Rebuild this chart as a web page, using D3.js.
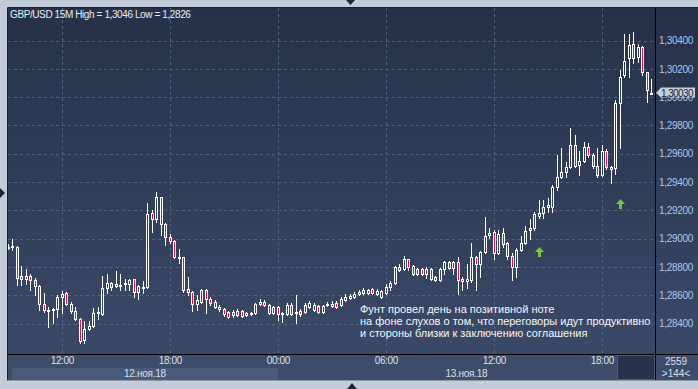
<!DOCTYPE html>
<html>
<head>
<meta charset="utf-8">
<script src="https://cdnjs.cloudflare.com/ajax/libs/d3/7.8.5/d3.min.js"></script>
<style>
html, body { margin: 0; padding: 0; background: #c3ccd8; overflow: hidden; }
svg { display: block; font-family: "Liberation Sans", Arial, sans-serif; }
</style>
</head>
<body>
<div id="chart"></div>
<script>
// GBP/USD 15M, 12.11.2018 09:00 .. 13.11.2018 20:45 (144 bars)
var opens = [
    1.28936, 1.28940, 1.28940, 1.28735, 1.28713, 1.28735, 1.28706, 1.28664, 1.28537, 1.28494,
    1.28494, 1.28501, 1.28586, 1.28614, 1.28537, 1.28487, 1.28431, 1.28282, 1.28360, 1.28381,
    1.28473, 1.28466, 1.28650, 1.28685, 1.28664, 1.28671, 1.28681, 1.28678, 1.28713, 1.28622,
    1.28657, 1.28657, 1.29180, 1.29138, 1.29293, 1.29102, 1.29010, 1.28982, 1.28869, 1.28869,
    1.28643, 1.28622, 1.28537, 1.28551, 1.28636, 1.28572, 1.28516, 1.28516, 1.28501, 1.28480,
    1.28459, 1.28459, 1.28487, 1.28459, 1.28466, 1.28473, 1.28537, 1.28551, 1.28530, 1.28473,
    1.28516, 1.28466, 1.28466, 1.28530, 1.28473, 1.28487, 1.28480, 1.28516, 1.28494, 1.28523,
    1.28480, 1.28533, 1.28523, 1.28544, 1.28530, 1.28565, 1.28579, 1.28586, 1.28610, 1.28614,
    1.28614, 1.28643, 1.28607, 1.28586, 1.28614, 1.28657, 1.28685, 1.28798, 1.28784, 1.28855,
    1.28805, 1.28749, 1.28784, 1.28749, 1.28784, 1.28728, 1.28706, 1.28784, 1.28834, 1.28791,
    1.28834, 1.28713, 1.28699, 1.28706, 1.28869, 1.28820, 1.28904, 1.29025, 1.29046, 1.28897,
    1.29039, 1.28968, 1.28876, 1.28798, 1.28918, 1.28968, 1.29060, 1.29074, 1.29159, 1.29180,
    1.29223, 1.29223, 1.29364, 1.29434, 1.29470, 1.29505, 1.29661, 1.29519, 1.29547, 1.29646,
    1.29590, 1.29512, 1.29448, 1.29618, 1.29505, 1.29498, 1.29958, 1.30156, 1.30276, 1.30375,
    1.30283, 1.30354, 1.30177, 1.30032
];
var highs = [
    1.28961, 1.28996, 1.28947, 1.28805, 1.28784, 1.28749, 1.28721, 1.28670, 1.28614, 1.28516,
    1.28508, 1.28600, 1.28629, 1.28620, 1.28551, 1.28516, 1.28438, 1.28417, 1.28417, 1.28508,
    1.28516, 1.28735, 1.28749, 1.28692, 1.28770, 1.28749, 1.28713, 1.28713, 1.28716, 1.28671,
    1.28699, 1.29251, 1.29201, 1.29328, 1.29297, 1.29109, 1.29032, 1.28989, 1.28926, 1.28872,
    1.28728, 1.28629, 1.28600, 1.28643, 1.28643, 1.28586, 1.28565, 1.28530, 1.28508, 1.28487,
    1.28494, 1.28501, 1.28494, 1.28480, 1.28480, 1.28544, 1.28572, 1.28565, 1.28537, 1.28523,
    1.28523, 1.28480, 1.28544, 1.28544, 1.28600, 1.28501, 1.28544, 1.28558, 1.28544, 1.28530,
    1.28530, 1.28551, 1.28558, 1.28558, 1.28586, 1.28607, 1.28607, 1.28622, 1.28636, 1.28650,
    1.28643, 1.28650, 1.28643, 1.28636, 1.28678, 1.28699, 1.28805, 1.28820, 1.28876, 1.28858,
    1.28812, 1.28791, 1.28791, 1.28798, 1.28791, 1.28735, 1.28791, 1.28841, 1.28841, 1.28841,
    1.28869, 1.28728, 1.28820, 1.28968, 1.28876, 1.28911, 1.29152, 1.29074, 1.29060, 1.29060,
    1.29074, 1.28975, 1.28897, 1.28933, 1.29017, 1.29088, 1.29138, 1.29187, 1.29272, 1.29272,
    1.29286, 1.29378, 1.29590, 1.29639, 1.29540, 1.29781, 1.29731, 1.29618, 1.29681, 1.29674,
    1.29604, 1.29639, 1.29661, 1.29632, 1.29512, 1.29979, 1.30191, 1.30446, 1.30446, 1.30460,
    1.30375, 1.30360, 1.30180, 1.30127
];
var lows = [
    1.28926, 1.28918, 1.28671, 1.28671, 1.28678, 1.28636, 1.28600, 1.28494, 1.28480, 1.28374,
    1.28402, 1.28445, 1.28473, 1.28530, 1.28473, 1.28424, 1.28260, 1.28265, 1.28353, 1.28378,
    1.28431, 1.28459, 1.28614, 1.28636, 1.28657, 1.28636, 1.28636, 1.28636, 1.28586, 1.28572,
    1.28614, 1.28650, 1.29046, 1.29116, 1.29025, 1.28954, 1.28968, 1.28862, 1.28827, 1.28622,
    1.28600, 1.28487, 1.28494, 1.28544, 1.28473, 1.28530, 1.28508, 1.28487, 1.28452, 1.28438,
    1.28445, 1.28452, 1.28445, 1.28452, 1.28459, 1.28466, 1.28530, 1.28523, 1.28466, 1.28466,
    1.28424, 1.28409, 1.28459, 1.28459, 1.28402, 1.28452, 1.28473, 1.28508, 1.28487, 1.28473,
    1.28473, 1.28523, 1.28516, 1.28508, 1.28523, 1.28558, 1.28572, 1.28579, 1.28600, 1.28607,
    1.28607, 1.28607, 1.28600, 1.28579, 1.28607, 1.28636, 1.28678, 1.28770, 1.28777, 1.28777,
    1.28742, 1.28742, 1.28742, 1.28721, 1.28706, 1.28699, 1.28699, 1.28749, 1.28784, 1.28749,
    1.28607, 1.28636, 1.28650, 1.28692, 1.28636, 1.28728, 1.28897, 1.29003, 1.28855, 1.28890,
    1.28940, 1.28855, 1.28706, 1.28728, 1.28911, 1.28961, 1.28996, 1.29060, 1.29145, 1.29145,
    1.29187, 1.29187, 1.29343, 1.29427, 1.29434, 1.29498, 1.29505, 1.29448, 1.29540, 1.29576,
    1.29498, 1.29434, 1.29441, 1.29491, 1.29392, 1.29455, 1.29639, 1.30142, 1.30142, 1.30241,
    1.30248, 1.30156, 1.29965, 1.30020
];
var closes = [
    1.28940, 1.28947, 1.28721, 1.28713, 1.28735, 1.28706, 1.28664, 1.28537, 1.28494, 1.28490,
    1.28501, 1.28586, 1.28607, 1.28537, 1.28487, 1.28431, 1.28275, 1.28360, 1.28381, 1.28473,
    1.28480, 1.28650, 1.28685, 1.28657, 1.28678, 1.28675, 1.28685, 1.28706, 1.28622, 1.28664,
    1.28660, 1.29173, 1.29138, 1.29293, 1.29102, 1.29010, 1.28982, 1.28869, 1.28865, 1.28636,
    1.28622, 1.28537, 1.28565, 1.28636, 1.28572, 1.28547, 1.28551, 1.28501, 1.28466, 1.28445,
    1.28480, 1.28487, 1.28452, 1.28473, 1.28473, 1.28537, 1.28551, 1.28530, 1.28473, 1.28516,
    1.28466, 1.28473, 1.28530, 1.28466, 1.28480, 1.28466, 1.28530, 1.28544, 1.28530, 1.28480,
    1.28523, 1.28537, 1.28537, 1.28516, 1.28572, 1.28586, 1.28593, 1.28607, 1.28622, 1.28636,
    1.28636, 1.28614, 1.28629, 1.28629, 1.28657, 1.28685, 1.28798, 1.28777, 1.28855, 1.28798,
    1.28749, 1.28784, 1.28749, 1.28784, 1.28713, 1.28706, 1.28784, 1.28834, 1.28791, 1.28834,
    1.28706, 1.28699, 1.28713, 1.28869, 1.28820, 1.28904, 1.29017, 1.29039, 1.28897, 1.29032,
    1.28961, 1.28876, 1.28798, 1.28918, 1.28968, 1.29053, 1.29074, 1.29173, 1.29180, 1.29223,
    1.29237, 1.29364, 1.29434, 1.29470, 1.29505, 1.29661, 1.29512, 1.29547, 1.29646, 1.29590,
    1.29512, 1.29448, 1.29618, 1.29505, 1.29491, 1.29958, 1.30142, 1.30255, 1.30368, 1.30276,
    1.30354, 1.30177, 1.30050, 1.30030
];

var priceTicks = [1.284, 1.286, 1.288, 1.290, 1.292, 1.294, 1.296, 1.298, 1.300, 1.302, 1.304];
var dayLabels = ["12.ноя.18", "13.ноя.18"];
var dayStarts = [new Date(2018, 10, 12), new Date(2018, 10, 13)];
var titleText = "GBP/USD 15M High = 1,3046 Low = 1,2826";
var noteLines = [
    "Фунт провел день на позитивной ноте",
    "на фоне слухов о том, что переговоры идут продуктивно",
    "и стороны близки к заключению соглашения"
];
// buy signals: bar time, price of the arrow tip
var signalTimes = [new Date(2018, 10, 13, 14, 30), new Date(2018, 10, 13, 19, 0)];
var signalPrices = [1.28940, 1.29279];
var barsTotal = "2559", barsShown = ">144<";

var W = 698, H = 389;
var plot = { left: 8, top: 8, right: 655, bottom: 354 };
var axisBottom = 380;

var firstTime = new Date(2018, 10, 12, 9, 0);
var times = opens.map(function (d, i) { return d3.timeMinute.offset(firstTime, 15 * i); });

var x = d3.scaleTime()
    .domain([times[0], times[times.length - 1]])
    .range([7.8, 651.3]);

var y = d3.scaleLinear()
    .domain([1.284, 1.304])
    .range([323.5, 40.5]);

var fmt = function (d) { return d3.format(".5f")(d).replace(".", ","); };

var svg = d3.select("#chart")
    .append("svg")
    .attr("width", W)
    .attr("height", H);

var defs = svg.append("defs");
var grad = defs.append("linearGradient")
    .attr("id", "bg")
    .attr("gradientUnits", "userSpaceOnUse")
    .attr("x1", 0).attr("y1", plot.top)
    .attr("x2", 0).attr("y2", plot.bottom);
grad.append("stop").attr("offset", "0%").attr("stop-color", "#263148");
grad.append("stop").attr("offset", "100%").attr("stop-color", "#3b4968");

defs.append("clipPath").attr("id", "plotclip")
    .append("rect")
    .attr("x", plot.left).attr("y", plot.top)
    .attr("width", plot.right - plot.left).attr("height", plot.bottom - plot.top);

// outer frame
svg.append("rect").attr("width", W).attr("height", H).attr("fill", "#c3ccd8");
svg.append("rect")
    .attr("x", plot.left).attr("y", plot.top)
    .attr("width", W - plot.left).attr("height", axisBottom - plot.top)
    .attr("fill", "url(#bg)");
svg.append("rect")
    .attr("x", plot.left).attr("y", plot.bottom)
    .attr("width", W - plot.left).attr("height", axisBottom - plot.bottom)
    .attr("fill", "#3e4c6a");
svg.append("path")
    .attr("d", "M7.5," + (axisBottom + 0.5) + "V7.5H" + W)
    .attr("fill", "none").attr("stroke", "#18202e");
svg.append("line")
    .attr("x1", plot.left).attr("x2", W)
    .attr("y1", axisBottom + 0.5).attr("y2", axisBottom + 0.5)
    .attr("stroke", "#8d99ab");

// little scroll arrows on the frame
svg.append("path").attr("d", "M0,188L5,193L0,198Z").attr("fill", "#1c2638");
svg.append("path").attr("d", "M346,0L355,0L350.5,5Z").attr("fill", "#1c2638");
svg.append("path").attr("d", "M347,389L357,389L352,383Z").attr("fill", "#1c2638");

// grid
var grid = svg.append("g")
    .attr("stroke", "#52617f")
    .attr("stroke-dasharray", "3,3")
    .attr("shape-rendering", "crispEdges");
grid.selectAll(".hg")
    .data(priceTicks)
    .enter().append("line")
    .attr("x1", plot.left).attr("x2", plot.right)
    .attr("y1", function (d) { return Math.round(y(d)) + 0.5; })
    .attr("y2", function (d) { return Math.round(y(d)) + 0.5; });
grid.selectAll(".vg")
    .data(x.ticks(d3.timeHour.every(6)))
    .enter().append("line")
    .attr("y1", plot.top).attr("y2", plot.bottom)
    .attr("x1", function (d) { return Math.round(x(d)) + 0.5; })
    .attr("x2", function (d) { return Math.round(x(d)) + 0.5; });

// candles
var candles = svg.append("g")
    .attr("clip-path", "url(#plotclip)")
    .attr("shape-rendering", "crispEdges")
    .selectAll("g")
    .data(d3.range(opens.length))
    .enter().append("g");

candles.append("rect")
    .attr("x", function (i) { return Math.round(x(times[i])); })
    .attr("width", 1)
    .attr("y", function (i) { return Math.round(y(highs[i])); })
    .attr("height", function (i) { return Math.round(y(lows[i])) - Math.round(y(highs[i])) + 1; })
    .attr("fill", "#ffffff");

function bodyTop(i) { return Math.round(y(Math.max(opens[i], closes[i]))); }
function bodyH(i) { return Math.max(1, Math.round(y(Math.min(opens[i], closes[i]))) - bodyTop(i) + 1); }

candles.append("rect")
    .attr("x", function (i) { return Math.round(x(times[i])) - 1; })
    .attr("width", 3)
    .attr("y", bodyTop)
    .attr("height", function (i) { return Math.max(2, bodyH(i)); })
    .attr("fill", "#ffffff");

candles.filter(function (i) { return bodyH(i) >= 3; })
    .append("rect")
    .attr("x", function (i) { return Math.round(x(times[i])); })
    .attr("width", 1)
    .attr("y", function (i) { return bodyTop(i) + 1; })
    .attr("height", function (i) { return bodyH(i) - 2; })
    .attr("fill", function (i) { return closes[i] < opens[i] ? "#e0123f" : "url(#bg)"; });

// buy arrows
svg.append("g")
    .selectAll("path")
    .data(signalTimes)
    .enter().append("path")
    .attr("transform", function (d, i) {
        return "translate(" + Math.round(x(d)) + "," + Math.round(y(signalPrices[i])) + ")";
    })
    .attr("d", "M0.5,0L5,5L2,5L2,10L-1,10L-1,5L-4,5Z")
    .attr("fill", "#7cc242");

// plot borders
svg.append("line")
    .attr("x1", plot.right + 0.5).attr("x2", plot.right + 0.5)
    .attr("y1", plot.top).attr("y2", axisBottom)
    .attr("stroke", "#000");
svg.append("line")
    .attr("x1", plot.left).attr("x2", W)
    .attr("y1", plot.bottom + 0.5).attr("y2", plot.bottom + 0.5)
    .attr("stroke", "#000");

// price axis
var yAxis = svg.append("g")
    .attr("transform", "translate(" + plot.right + ",0)")
    .call(d3.axisRight(y).tickValues(priceTicks).tickFormat(fmt).tickSize(0).tickPadding(4));
yAxis.select(".domain").remove();
yAxis.selectAll("text")
    .attr("fill", "#a9c6ee")
    .style("font-size", "10px")
    .style("letter-spacing", "-0.3px");

// current price label, drawn over the 1,30000 tick as in the terminal
var lastY = Math.round(y(closes[closes.length - 1]));
var lbl = svg.append("g").attr("transform", "translate(0," + lastY + ")");
lbl.append("path")
    .attr("d", "M656,0L661,-5.5H695V4.5H661Z")
    .attr("fill", "#c6ced9");
lbl.append("text")
    .attr("x", 661).attr("y", 3.5)
    .attr("fill", "#14203a")
    .style("font-size", "10px")
    .style("letter-spacing", "-0.6px")
    .text(fmt(closes[closes.length - 1]));

// day bands under the time axis
var dayEdges = [Math.round(x(times[1])), x(dayStarts[1]), plot.right];
svg.append("rect")
    .attr("x", dayEdges[0]).attr("y", 368)
    .attr("width", dayEdges[1] - dayEdges[0]).attr("height", axisBottom - 368)
    .attr("fill", "#4b5a79");
svg.selectAll(".day")
    .data(dayLabels)
    .enter().append("text")
    .attr("x", function (d, i) { return (dayEdges[i] + dayEdges[i + 1]) / 2; })
    .attr("y", 377)
    .attr("text-anchor", "middle")
    .attr("fill", "#d6e0ee")
    .style("font-size", "10px")
    .style("letter-spacing", "-0.3px")
    .text(function (d) { return d; });

svg.append("rect")
    .attr("x", 617.5).attr("y", plot.bottom + 1.5)
    .attr("width", plot.right - 618).attr("height", axisBottom - plot.bottom - 2)
    .attr("fill", "#28324b")
    .attr("stroke", "#4f5d78");

// time axis
var xAxis = svg.append("g")
    .attr("transform", "translate(0," + (plot.bottom + 1) + ")")
    .call(d3.axisBottom(x).ticks(d3.timeHour.every(6)).tickFormat(d3.timeFormat("%H:%M")).tickSize(0).tickPadding(2));
xAxis.select(".domain").remove();
xAxis.selectAll("text")
    .attr("fill", "#d6e0ee")
    .style("font-size", "10px")
    .style("letter-spacing", "-0.4px");

// bar counters
svg.append("text")
    .attr("x", 676).attr("y", 365)
    .attr("text-anchor", "middle")
    .attr("fill", "#d6e0ee")
    .style("font-size", "10px")
    .text(barsTotal);
svg.append("text")
    .attr("x", 676).attr("y", 377)
    .attr("text-anchor", "middle")
    .attr("fill", "#d6e0ee")
    .style("font-size", "10px")
    .text(barsShown);

// title
svg.append("text")
    .attr("x", 10).attr("y", 18)
    .attr("fill", "#e6ecf6")
    .style("font-size", "10px")
    .style("letter-spacing", "-0.4px")
    .text(titleText);

// comment
svg.append("g")
    .selectAll("text")
    .data(noteLines)
    .enter().append("text")
    .attr("x", 360)
    .attr("y", function (d, i) { return 313 + i * 12.2; })
    .attr("fill", "#f4f6fa")
    .style("font-size", "11px")
    .text(function (d) { return d; });
</script>
</body>
</html>
